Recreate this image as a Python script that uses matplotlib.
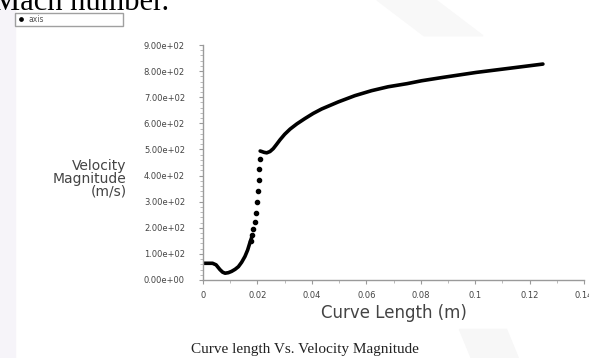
import numpy as np
import matplotlib.pyplot as plt
from matplotlib.patches import Polygon
from matplotlib.ticker import FormatStrFormatter, MultipleLocator

# low part of the curve (dense dots, looks like a line)
x_low = [0.0, 0.002, 0.0035, 0.0048, 0.0062, 0.0072, 0.0081, 0.0093, 0.0105, 0.0118,
         0.0130, 0.0142, 0.0154, 0.0164, 0.0172, 0.0181]
y_low = [64, 64, 64, 58, 40, 30, 26, 28, 33, 41,
         51, 68, 90, 115, 142, 170]

# steep part, separate dots
x_steep = [0.0176, 0.0181, 0.0185, 0.0191, 0.0195, 0.0199, 0.0203, 0.0206, 0.0207, 0.0209]
y_steep = [151, 174, 196, 221, 257, 298, 339, 382, 425, 463]

# upper part of the curve
x_high = [0.0210, 0.0216, 0.0224, 0.0234, 0.0246, 0.0258, 0.0270, 0.0283, 0.0300,
          0.0320, 0.0345, 0.0374, 0.0405, 0.0436, 0.0497, 0.0558, 0.0619, 0.0680,
          0.0750, 0.0803, 0.0882, 0.1004, 0.1127, 0.1249]
y_high = [494, 492, 489, 487, 492, 503, 519, 537, 558,
          578, 598, 618, 638, 655, 682, 706, 725, 740,
          752, 763, 776, 795, 811, 827]

x_ticks = [0, 0.02, 0.04, 0.06, 0.08, 0.1, 0.12, 0.14]
y_ticks = [0, 100, 200, 300, 400, 500, 600, 700, 800, 900]

fig = plt.figure(figsize=(5.89, 3.58), dpi=100)
fig.patch.set_facecolor('white')

# faint watermark shapes in the page background
fig.add_artist(Polygon([[0.0, 0.0], [0.025, 0.0], [0.025, 1.0], [0.0, 1.0]],
                       closed=True, transform=fig.transFigure, color='#f6f4f9', zorder=0))
fig.add_artist(Polygon([[0.64, 1.0], [0.74, 1.0], [0.82, 0.90], [0.72, 0.90]],
                       closed=True, transform=fig.transFigure, color='#f8f8f8', zorder=0))
fig.add_artist(Polygon([[0.80, 0.0], [0.88, 0.0], [0.86, 0.08], [0.78, 0.08]],
                       closed=True, transform=fig.transFigure, color='#f7f7f7', zorder=0))

ax = fig.add_axes([0.3447, 0.2179, 0.6468, 0.6564])
ax.set_facecolor('none')

ax.plot(x_low, y_low, color='black', lw=2.6, solid_capstyle='round', solid_joinstyle='round')
ax.plot(x_steep, y_steep, color='black', lw=0, marker='o', ms=3, label='axis')
ax.plot(x_high, y_high, color='black', lw=2.6, solid_capstyle='round', solid_joinstyle='round')

ax.set_xlim(0, 0.14)
ax.set_ylim(0, 900)
ax.set_xticks(x_ticks)
ax.set_yticks(y_ticks)
ax.xaxis.set_minor_locator(MultipleLocator(0.01))
ax.yaxis.set_minor_locator(MultipleLocator(20))
ax.yaxis.set_major_formatter(FormatStrFormatter('%.2e'))
ax.xaxis.set_major_formatter(FormatStrFormatter('%g'))

for s in ['top', 'right']:
    ax.spines[s].set_visible(False)
for s in ['left', 'bottom']:
    ax.spines[s].set_color('#9a9a9a')
    ax.spines[s].set_linewidth(1.0)

ax.tick_params(which='major', length=3, color='#9a9a9a', labelsize=6, labelcolor='#444444')
ax.tick_params(axis='y', which='major', pad=10)
ax.tick_params(axis='x', which='major', pad=5)
ax.tick_params(which='minor', length=2, color='#b0b0b0')

ax.set_xlabel('Curve Length (m)', fontsize=12, color='#444444', labelpad=3)

fig.text(0.215, 0.50, 'Velocity\nMagnitude\n(m/s)', ha='right', va='center',
         fontsize=10, color='#444444', linespacing=0.9)

# legend box in the top left corner
fig.legend(loc='center left', bbox_to_anchor=(15 / 589, 1 - 26 / 358, 108 / 589, 13 / 358),
           mode='expand', fontsize=5.5, frameon=True, fancybox=False, edgecolor='#888888',
           borderpad=0.2, handlelength=1.2, handletextpad=0.4, borderaxespad=0,
           labelcolor='#555555', markerscale=0.8)
fig.legends[0].get_frame().set_linewidth(1.0)

# surrounding document text
fig.text(-0.012, 1 - 10 / 358, 'Mach number.', fontsize=22, family='Liberation Serif',
         va='baseline', color='black')
fig.text(0.518, 1 - 349 / 358, 'Curve length Vs. Velocity Magnitude', fontsize=11,
         family='Liberation Serif', ha='center', va='center', color='#222222')

plt.savefig('out.png', dpi=100)
